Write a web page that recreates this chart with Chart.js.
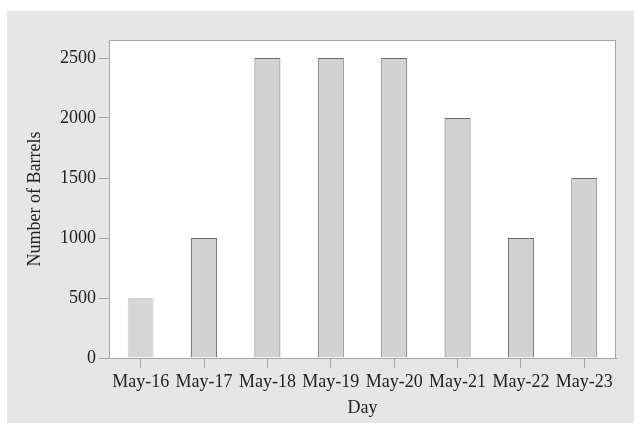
<!DOCTYPE html>
<html>
<head>
<meta charset="utf-8">
<script src="https://cdn.jsdelivr.net/npm/chart.js@4.4.0/dist/chart.umd.min.js"></script>
<style>
  html, body { margin: 0; padding: 0; background: #ffffff; }
  #wrap { position: absolute; left: 7px; top: 11px; width: 627px; height: 412px; background: #e6e6e7; }
</style>
</head>
<body>
<div id="wrap"><canvas id="chart"></canvas></div>
<script>
// Barrels per day
const days = ['May-16', 'May-17', 'May-18', 'May-19', 'May-20', 'May-21', 'May-22', 'May-23'];
const barrels = [500, 1000, 2500, 2500, 2500, 2000, 1000, 1500];
const yTicks = [0, 500, 1000, 1500, 2000, 2500];

const serif = 'Liberation Serif, Times New Roman, serif';
const textColor = '#222222';
const frameColor = '#a6a6a6';

// white plot area with a thin frame
const plotBg = {
    id: 'plotBg',
    beforeDraw(chart) {
        const { ctx, chartArea: a } = chart;
        ctx.save();
        ctx.fillStyle = '#ffffff';
        ctx.fillRect(a.left, a.top, a.right - a.left, a.bottom - a.top);
        ctx.restore();
    },
    afterDatasetsDraw(chart) {
        const { ctx, chartArea: a } = chart;
        ctx.save();
        ctx.strokeStyle = frameColor;
        ctx.lineWidth = 1;
        ctx.strokeRect(a.left + 0.5, a.top + 0.5, a.right - a.left - 1, a.bottom - a.top);
        ctx.restore();
    }
};

new Chart(document.getElementById('chart'), {
    type: 'bar',
    data: {
        labels: days,
        datasets: [{
            data: barrels,
            backgroundColor: barrels.map((_, i) => i === 0 ? '#d6d6d6' : '#d2d2d2'),
            borderColor: barrels.map((_, i) => i === 0 ? '#cfcfcf' : '#6a6a6a'),
            borderWidth: 1,
            borderSkipped: 'bottom',
            categoryPercentage: 1,
            barPercentage: 0.41
        }]
    },
    options: {
        responsive: true,
        maintainAspectRatio: false,
        animation: false,
        layout: { padding: { top: 29, right: 18, left: 0, bottom: 0 } },
        plugins: {
            legend: { display: false },
            tooltip: { enabled: false }
        },
        scales: {
            x: {
                grid: { offset: false, drawOnChartArea: false, drawTicks: true, tickLength: 10, color: frameColor },
                border: { color: frameColor },
                ticks: { color: textColor, font: { family: serif, size: 18 }, padding: 3, maxRotation: 0 },
                title: { display: true, text: 'Day', color: textColor, font: { family: serif, size: 18 }, padding: { top: 0, bottom: 4 } },
                afterFit(scale) { scale.height = 65; }
            },
            y: {
                min: 0,
                max: 2650,
                afterBuildTicks(scale) { scale.ticks = yTicks.map(v => ({ value: v })); },
                grid: { drawOnChartArea: false, drawTicks: true, tickLength: 10, color: frameColor },
                border: { color: frameColor },
                ticks: { color: textColor, font: { family: serif, size: 18 }, padding: 3, callback: v => String(v) },
                title: { display: true, text: 'Number of Barrels', color: textColor, font: { family: serif, size: 18 }, padding: { top: 17, bottom: 0 } },
                afterFit(scale) { scale.width = 102; }
            }
        }
    },
    plugins: [plotBg]
});
</script>
</body>
</html>
